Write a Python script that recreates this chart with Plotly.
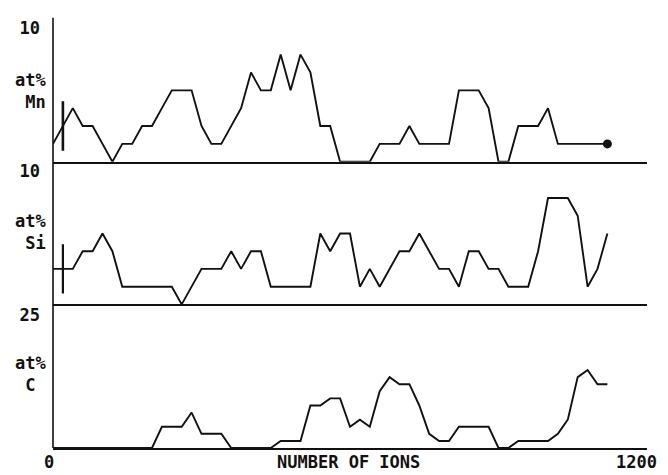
import plotly.graph_objects as go

# Number of ions (x positions of the profile points)
ions = [0, 20, 40, 60, 80, 100, 120, 140, 160, 180,
        200, 220, 240, 260, 280, 300, 320, 340, 360, 380,
        400, 420, 440, 460, 480, 500, 520, 540, 560, 580,
        600, 620, 640, 660, 680, 700, 720, 740, 760, 780,
        800, 820, 840, 860, 880, 900, 920, 940, 960, 980,
        1000, 1020, 1040, 1060, 1080, 1100, 1120]

# at% Mn
mn = [1.33, 2.67, 4, 2.67, 2.67, 1.33, 0, 1.33, 1.33, 2.67,
      2.67, 4, 5.33, 5.33, 5.33, 2.67, 1.33, 1.33, 2.67, 4,
      6.67, 5.33, 5.33, 8, 5.33, 8, 6.67, 2.67, 2.67, 0,
      0, 0, 0, 1.33, 1.33, 1.33, 2.67, 1.33, 1.33, 1.33,
      1.33, 5.33, 5.33, 5.33, 4, 0, 0, 2.67, 2.67, 2.67,
      4, 1.33, 1.33, 1.33, 1.33, 1.33, 1.33]

# at% Si
si = [2.67, 2.67, 2.67, 4, 4, 5.33, 4, 1.33, 1.33, 1.33,
      1.33, 1.33, 1.33, 0, 1.33, 2.67, 2.67, 2.67, 4, 2.67,
      4, 4, 1.33, 1.33, 1.33, 1.33, 1.33, 5.33, 4, 5.33,
      5.33, 1.33, 2.67, 1.33, 2.67, 4, 4, 5.33, 4, 2.67,
      2.67, 1.33, 4, 4, 2.67, 2.67, 1.33, 1.33, 1.33, 4,
      8, 8, 8, 6.67, 1.33, 2.67, 5.33]

# at% C
c = [0, 0, 0, 0, 0, 0, 0, 0, 0, 0,
     0, 4, 4, 4, 6.67, 2.67, 2.67, 2.67, 0, 0,
     0, 0, 0, 1.33, 1.33, 1.33, 8, 8, 9.33, 9.33,
     4, 5.33, 4, 10.67, 13.33, 12, 12, 8, 2.67, 1.33,
     1.33, 4, 4, 4, 4, 0, 0, 1.33, 1.33, 1.33,
     1.33, 2.67, 5.33, 13.33, 14.67, 12, 12]

# Statistical error bars (x, centre, half-range)
err_x = [20]
mn_err_c = [2.67]
si_err_c = [2.67]
err_half = [1.85]

# Axis tick labels
mn_max, si_max, c_max = 10, 10, 25
x_max = 1200

FONT = "DejaVu Sans Mono"
BLACK = "#111111"
TFONT = dict(family=FONT, size=17, color=BLACK, weight="bold")

fig = go.Figure()

line = dict(color=BLACK, width=1.9)

# C panel (bottom)
fig.add_trace(go.Scatter(x=ions, y=c, mode="lines", line=line, xaxis="x", yaxis="y"))
# Si panel (middle)
fig.add_trace(go.Scatter(x=ions, y=si, mode="lines", line=line, xaxis="x2", yaxis="y2"))
fig.add_trace(go.Scatter(x=err_x, y=si_err_c, mode="markers", marker=dict(size=1, color=BLACK),
                         error_y=dict(type="data", array=err_half, color=BLACK, thickness=2.2, width=0),
                         xaxis="x2", yaxis="y2"))
# Mn panel (top)
fig.add_trace(go.Scatter(x=ions, y=mn, mode="lines", line=line, xaxis="x3", yaxis="y3"))
fig.add_trace(go.Scatter(x=[ions[-1]], y=[mn[-1]], mode="markers",
                         marker=dict(size=9, color=BLACK), cliponaxis=False,
                         xaxis="x3", yaxis="y3"))
fig.add_trace(go.Scatter(x=err_x, y=mn_err_c, mode="markers", marker=dict(size=1, color=BLACK),
                         error_y=dict(type="data", array=err_half, color=BLACK, thickness=2.6, width=0),
                         xaxis="x3", yaxis="y3"))

xcommon = dict(range=[0, x_max], showline=True, linecolor=BLACK, linewidth=2,
               showgrid=False, zeroline=False, showticklabels=False, ticks="")
ycommon = dict(showline=False, showgrid=False, zeroline=False, ticks="",
               tickfont=TFONT, ticklabelstandoff=12)

fig.update_layout(
    width=660, height=467,
    margin=dict(l=45, r=21, t=2, b=27),
    paper_bgcolor="white", plot_bgcolor="white",
    showlegend=False,
    font=TFONT,
    xaxis=dict(anchor="y", **xcommon),
    xaxis2=dict(anchor="y2", matches="x", **xcommon),
    xaxis3=dict(anchor="y3", matches="x", **xcommon),
    yaxis=dict(domain=[0, 0.3105], range=[0, c_max], tickvals=[c_max],
               ticktext=[str(c_max)], anchor="x", **ycommon),
    yaxis2=dict(domain=[0.3356, 0.6461], range=[0, si_max], tickvals=[si_max],
                ticktext=[str(si_max)], anchor="x2", **ycommon),
    yaxis3=dict(domain=[0.6689, 0.9817], range=[0, mn_max], tickvals=[mn_max],
                ticktext=[str(mn_max)], anchor="x3", **ycommon),
)

# Left vertical axis line spanning the three panels
fig.add_shape(type="line", xref="paper", yref="paper", x0=0, x1=0, y0=0, y1=1.005,
              line=dict(color=BLACK, width=1.6))

NB = "\u00a0"
labels = [("at%<br>" + NB + "Mn", 0.8333), ("at%<br>" + NB + "Si", 0.5046), ("at%<br>" + NB + "C", 0.1735)]
for txt, yp in labels:
    fig.add_annotation(text=txt, xref="paper", yref="paper", x=-0.068, y=yp,
                       xanchor="left", yanchor="middle", align="left", showarrow=False,
                       font=TFONT)

bottom = [("0", -0.0067), ("NUMBER OF IONS", 0.4975), (str(x_max), 0.9815)]
for txt, xp in bottom:
    fig.add_annotation(text=txt, xref="paper", yref="paper", x=xp, y=-0.032,
                       xanchor="center", yanchor="middle", showarrow=False,
                       font=TFONT)

fig.write_html("out.html")
